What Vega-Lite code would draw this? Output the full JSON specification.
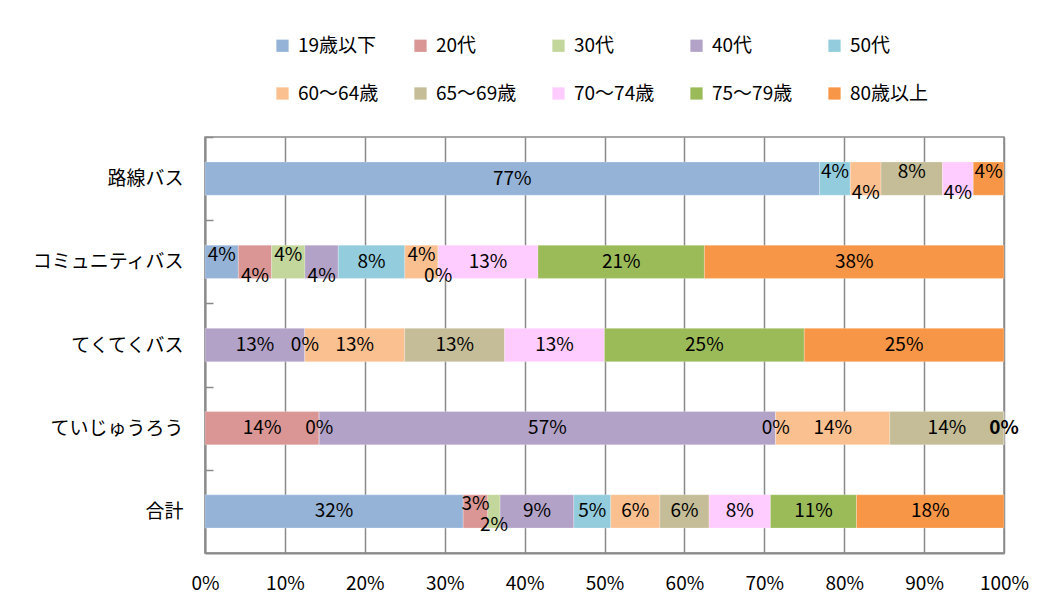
{
  "$schema": "https://vega.github.io/schema/vega-lite/v6.json",
  "width": 799,
  "height": 416,
  "autosize": {"type": "none"},
  "padding": {"left": 205, "top": 137, "right": 45, "bottom": 59},
  "background": "#ffffff",
  "data": {
    "values": [
      {"c": "路線バス", "a": "19歳以下", "v": 0.7692},
      {"c": "路線バス", "a": "50代", "v": 0.0385},
      {"c": "路線バス", "a": "60〜64歳", "v": 0.0385},
      {"c": "路線バス", "a": "65〜69歳", "v": 0.0769},
      {"c": "路線バス", "a": "70〜74歳", "v": 0.0385},
      {"c": "路線バス", "a": "80歳以上", "v": 0.0385},
      {"c": "コミュニティバス", "a": "19歳以下", "v": 0.0417},
      {"c": "コミュニティバス", "a": "20代", "v": 0.0417},
      {"c": "コミュニティバス", "a": "30代", "v": 0.0417},
      {"c": "コミュニティバス", "a": "40代", "v": 0.0417},
      {"c": "コミュニティバス", "a": "50代", "v": 0.0833},
      {"c": "コミュニティバス", "a": "60〜64歳", "v": 0.0417},
      {"c": "コミュニティバス", "a": "65〜69歳", "v": 0},
      {"c": "コミュニティバス", "a": "70〜74歳", "v": 0.125},
      {"c": "コミュニティバス", "a": "75〜79歳", "v": 0.2083},
      {"c": "コミュニティバス", "a": "80歳以上", "v": 0.375},
      {"c": "てくてくバス", "a": "40代", "v": 0.125},
      {"c": "てくてくバス", "a": "50代", "v": 0},
      {"c": "てくてくバス", "a": "60〜64歳", "v": 0.125},
      {"c": "てくてくバス", "a": "65〜69歳", "v": 0.125},
      {"c": "てくてくバス", "a": "70〜74歳", "v": 0.125},
      {"c": "てくてくバス", "a": "75〜79歳", "v": 0.25},
      {"c": "てくてくバス", "a": "80歳以上", "v": 0.25},
      {"c": "ていじゅうろう", "a": "20代", "v": 0.1429},
      {"c": "ていじゅうろう", "a": "30代", "v": 0},
      {"c": "ていじゅうろう", "a": "40代", "v": 0.5714},
      {"c": "ていじゅうろう", "a": "50代", "v": 0},
      {"c": "ていじゅうろう", "a": "60〜64歳", "v": 0.1429},
      {"c": "ていじゅうろう", "a": "65〜69歳", "v": 0.1429},
      {"c": "ていじゅうろう", "a": "80歳以上", "v": 0},
      {"c": "合計", "a": "19歳以下", "v": 0.3231},
      {"c": "合計", "a": "20代", "v": 0.0308},
      {"c": "合計", "a": "30代", "v": 0.0154},
      {"c": "合計", "a": "40代", "v": 0.0923},
      {"c": "合計", "a": "50代", "v": 0.0462},
      {"c": "合計", "a": "60〜64歳", "v": 0.0615},
      {"c": "合計", "a": "65〜69歳", "v": 0.0615},
      {"c": "合計", "a": "70〜74歳", "v": 0.0769},
      {"c": "合計", "a": "75〜79歳", "v": 0.1077},
      {"c": "合計", "a": "80歳以上", "v": 0.1846}
    ]
  },
  "transform": [
    {"stack": "v", "groupby": ["c"], "offset": "normalize", "sort": [{"field": "a", "order": "ascending"}], "as": ["x0", "x1"]},
    {"calculate": "(datum.x0 + datum.x1) / 2", "as": "mid"},
    {"calculate": "datum.c + '|' + datum.a", "as": "key"}
  ],
  "encoding": {
    "y": {
      "field": "c",
      "type": "nominal",
      "sort": ["路線バス", "コミュニティバス", "てくてくバス", "ていじゅうろう", "合計"],
      "scale": {"paddingInner": 0.6, "paddingOuter": 0.3},
      "axis": {
        "title": null,
        "labelFontSize": 19,
        "labelColor": "#000000",
        "labelPadding": 30,
        "tickSize": -8,
        "tickOffset": -41.6,
        "labelOffset": 41.6,
        "tickColor": "#8a8a8a",
        "tickWidth": 1.5,
        "domainColor": "#8a8a8a",
        "domainWidth": 2,
        "grid": false
      }
    }
  },
  "layer": [
    {
      "mark": {"type": "bar", "stroke": "#ffffff", "strokeWidth": 0.4, "strokeOpacity": 0.6},
      "encoding": {
        "x": {
          "field": "x0",
          "type": "quantitative",
          "scale": {"domain": [0, 1], "nice": false, "zero": true},
          "axis": {
            "title": null,
            "format": ".0%",
            "values": [0, 0.1, 0.2, 0.3, 0.4, 0.5, 0.6, 0.7, 0.8, 0.9, 1],
            "labelFontSize": 19,
            "labelColor": "#000000",
            "labelPadding": 21,
            "tickSize": 0,
            "grid": true,
            "gridColor": "#8a8a8a",
            "gridWidth": 1.5,
            "domainColor": "#8a8a8a",
            "domainWidth": 2,
            "labelFlush": false
          }
        },
        "x2": {"field": "x1"},
        "color": {
          "field": "a",
          "type": "nominal",
          "scale": {
            "domain": ["19歳以下", "20代", "30代", "40代", "50代", "60〜64歳", "65〜69歳", "70〜74歳", "75〜79歳", "80歳以上"],
            "range": ["#95B3D7", "#D99694", "#C3D69B", "#B3A2C7", "#93CDDD", "#FAC090", "#C4BD97", "#FFCCFF", "#9BBB59", "#F79646"]
          },
          "legend": {
            "title": null,
            "orient": "none",
            "legendX": 68,
            "legendY": -101,
            "direction": "horizontal",
            "columns": 5,
            "gridAlign": "all",
            "columnPadding": 32,
            "rowPadding": 28,
            "symbolType": "square",
            "symbolSize": 150,
            "symbolStrokeWidth": 0,
            "labelFontSize": 19,
            "labelColor": "#000000",
            "labelOffset": 6
          }
        }
      }
    },
    {
      "transform": [{"filter": "indexof(['路線バス|50代','路線バス|65〜69歳','路線バス|80歳以上','コミュニティバス|19歳以下','コミュニティバス|30代','コミュニティバス|60〜64歳','合計|20代','路線バス|60〜64歳','路線バス|70〜74歳','コミュニティバス|20代','コミュニティバス|40代','コミュニティバス|65〜69歳','合計|30代','ていじゅうろう|80歳以上'], datum.key) < 0"}],
      "mark": {"type": "text", "fontSize": 19, "color": "#000000"},
      "encoding": {
        "x": {"field": "mid", "type": "quantitative"},
        "text": {"field": "v", "type": "quantitative", "format": ".0%"}
      }
    },
    {
      "transform": [{"filter": "indexof(['路線バス|50代','路線バス|65〜69歳','路線バス|80歳以上','コミュニティバス|19歳以下','コミュニティバス|30代','コミュニティバス|60〜64歳','合計|20代'], datum.key) >= 0"}],
      "mark": {"type": "text", "fontSize": 19, "color": "#000000", "dy": -7},
      "encoding": {
        "x": {"field": "mid", "type": "quantitative"},
        "text": {"field": "v", "type": "quantitative", "format": ".0%"}
      }
    },
    {
      "transform": [{"filter": "indexof(['路線バス|60〜64歳','路線バス|70〜74歳','コミュニティバス|20代','コミュニティバス|40代','コミュニティバス|65〜69歳','合計|30代'], datum.key) >= 0"}],
      "mark": {"type": "text", "fontSize": 19, "color": "#000000", "dy": 14},
      "encoding": {
        "x": {"field": "mid", "type": "quantitative"},
        "text": {"field": "v", "type": "quantitative", "format": ".0%"}
      }
    },
    {
      "transform": [{"filter": "datum.key === 'ていじゅうろう|80歳以上'"}],
      "mark": {"type": "text", "fontSize": 19, "color": "#000000", "fontWeight": "bold"},
      "encoding": {
        "x": {"field": "mid", "type": "quantitative"},
        "text": {"field": "v", "type": "quantitative", "format": ".0%"}
      }
    }
  ],
  "config": {
    "font": "Noto Sans CJK JP",
    "view": {"stroke": "#8a8a8a", "strokeWidth": 1.5},
    "axis": {"labelFont": "Noto Sans CJK JP"},
    "legend": {"labelFont": "Noto Sans CJK JP"},
    "text": {"font": "Noto Sans CJK JP"}
  }
}
